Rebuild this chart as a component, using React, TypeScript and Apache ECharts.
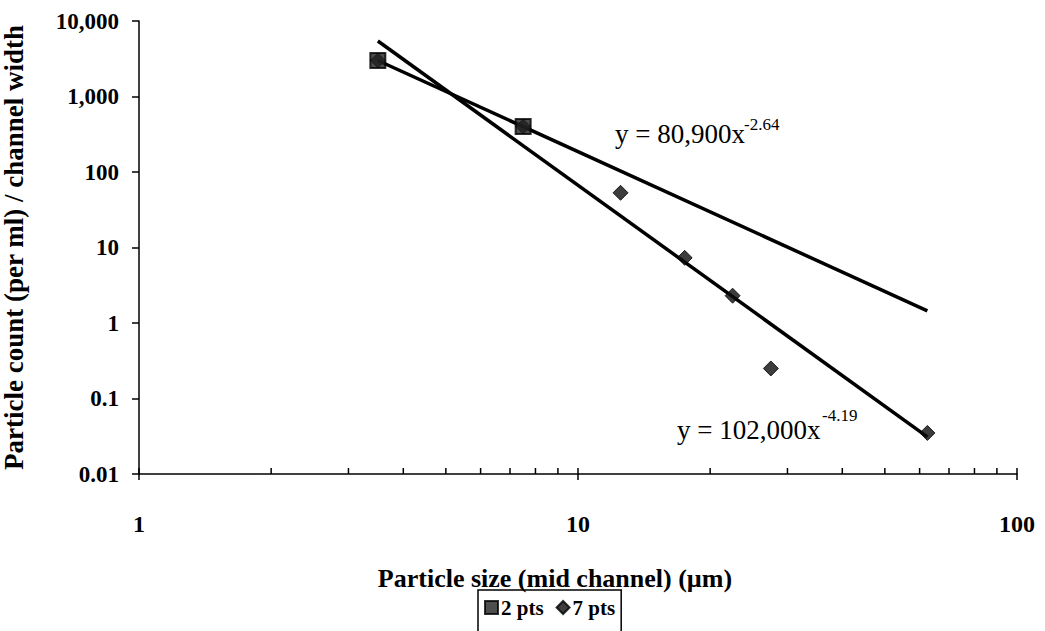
import React, { useEffect, useRef } from "react";
import * as echarts from "echarts";

const sizes2 = [3.5, 7.5];
const counts2 = [3000, 400];
const sizes7 = [3.5, 7.5, 12.5, 17.5, 22.5, 27.5, 62.5];
const counts7 = [3000, 400, 53, 7.3, 2.3, 0.25, 0.035];
const trend2X = [3.5, 62.5];
const trend2Y = [3000, 1.45];
const trend7X = [3.5, 62.5];
const trend7Y = [5430, 0.031];
const xTickValues = [1, 2, 3, 4, 5, 6, 7, 8, 9, 10, 20, 30, 40, 50, 60, 70, 80, 90, 100];
const legendNames = ["2 pts", "7 pts"];
const eq1 = { main: "y = 80,900x", sup: "-2.64" };
const eq2 = { main: "y = 102,000x", sup: "-4.19" };

const SERIF = "'Liberation Serif', 'Times New Roman', serif";

function fmtY(v: number): string {
  const n = Number(v.toPrecision(6));
  if (n >= 1000) return n.toLocaleString("en-US");
  return String(n);
}

export default function App() {
  const ref = useRef<HTMLDivElement>(null);
  useEffect(() => {
    if (!ref.current) return;
    const chart = echarts.init(ref.current, null, { renderer: "svg" });
    const yMin = 0.01;
    chart.setOption({
      animation: false,
      backgroundColor: "#fff",
      textStyle: { fontFamily: SERIF },
      grid: { left: 139, right: 28, top: 21, bottom: 157, outerBoundsMode: "none", containLabel: false },
      legend: {
        data: [
          { name: legendNames[0], icon: "rect" },
          { name: legendNames[1], icon: "diamond" },
        ],
        left: 478,
        top: 590,
        itemWidth: 13,
        itemHeight: 13,
        itemGap: 12,
        padding: [7, 6, 20, 6],
        borderColor: "#000",
        borderWidth: 1.5,
        textStyle: { fontFamily: SERIF, fontWeight: "bold", fontSize: 21, color: "#000", padding: [0, 0, 0, -2] },
      },
      xAxis: {
        type: "log",
        logBase: 10,
        min: 1,
        max: 100,
        name: "Particle size (mid channel) (\u00b5m)",
        nameLocation: "middle",
        nameGap: 91,
        nameTextStyle: { fontFamily: SERIF, fontWeight: "bold", fontSize: 26, color: "#000", padding: [0, 46, 0, 0] },
        axisLine: { lineStyle: { color: "#000", width: 1.5 } },
        axisTick: { show: true, length: 6, lineStyle: { color: "#000", width: 1.5 } },
        axisLabel: {
          margin: 38,
          fontFamily: SERIF,
          fontWeight: "bold",
          fontSize: 24,
          color: "#000",
          formatter: (v: number) => String(Number(v.toPrecision(6))),
        },
        splitLine: { show: false },
        minorTick: { show: false },
      },
      yAxis: {
        type: "log",
        logBase: 10,
        min: 0.01,
        max: 10000,
        name: "Particle count (per ml) / channel width",
        nameLocation: "middle",
        nameGap: 112,
        nameTextStyle: { fontFamily: SERIF, fontWeight: "bold", fontSize: 27, color: "#000" },
        axisLine: { lineStyle: { color: "#000", width: 1.5 } },
        axisTick: { show: true, length: 7, lineStyle: { color: "#000", width: 1.5 } },
        axisLabel: {
          margin: 20,
          fontFamily: SERIF,
          fontWeight: "bold",
          fontSize: 23,
          color: "#000",
          formatter: fmtY,
        },
        splitLine: { show: false },
      },
      series: [
        {
          name: "trend7",
          type: "line",
          data: trend7X.map((x, i) => [x, trend7Y[i]]),
          showSymbol: false,
          symbol: "none",
          lineStyle: { color: "#000", width: 3.5 },
          silent: true,
          z: 2,
        },
        {
          name: "trend2",
          type: "line",
          data: trend2X.map((x, i) => [x, trend2Y[i]]),
          showSymbol: false,
          symbol: "none",
          lineStyle: { color: "#000", width: 3.5 },
          silent: true,
          z: 2,
        },
        {
          name: legendNames[1],
          type: "scatter",
          symbol: "diamond",
          symbolSize: 15,
          data: sizes7.map((x, i) => [x, counts7[i]]),
          itemStyle: { color: "#0d0d0d", borderColor: "#000", borderWidth: 1 },
          z: 3,
        },
        {
          name: legendNames[0],
          type: "scatter",
          symbol: "rect",
          symbolSize: 15,
          data: sizes2.map((x, i) => [x, counts2[i]]),
          itemStyle: { color: "#222", borderColor: "#000", borderWidth: 2 },
          z: 4,
        },
        {
          name: "xticks",
          type: "custom",
          silent: true,
          clip: false,
          z: 5,
          data: xTickValues.map((v) => [v, yMin]),
          renderItem: (params: any, api: any) => {
            const p = api.coord([api.value(0), api.value(1)]);
            return {
              type: "line",
              shape: { x1: p[0], y1: p[1], x2: p[0], y2: p[1] - 6 },
              style: { stroke: "#000", lineWidth: 1.5 },
            };
          },
        },
      ],
      graphic: [
        {
          type: "text",
          left: 615,
          top: 120,
          style: { text: eq1.main, fontFamily: SERIF, fontSize: 27, fill: "#000" },
        },
        {
          type: "text",
          left: 744,
          top: 116,
          style: { text: eq1.sup, fontFamily: SERIF, fontSize: 17, fill: "#000" },
        },
        {
          type: "text",
          left: 677,
          top: 416,
          style: { text: eq2.main, fontFamily: SERIF, fontSize: 27, fill: "#000" },
        },
        {
          type: "text",
          left: 822,
          top: 407,
          style: { text: eq2.sup, fontFamily: SERIF, fontSize: 17, fill: "#000" },
        },
      ],
    });
    return () => chart.dispose();
  }, []);
  return <div ref={ref} style={{ width: 1045, height: 631, position: "absolute", left: 0, top: 0 }} />;
}
